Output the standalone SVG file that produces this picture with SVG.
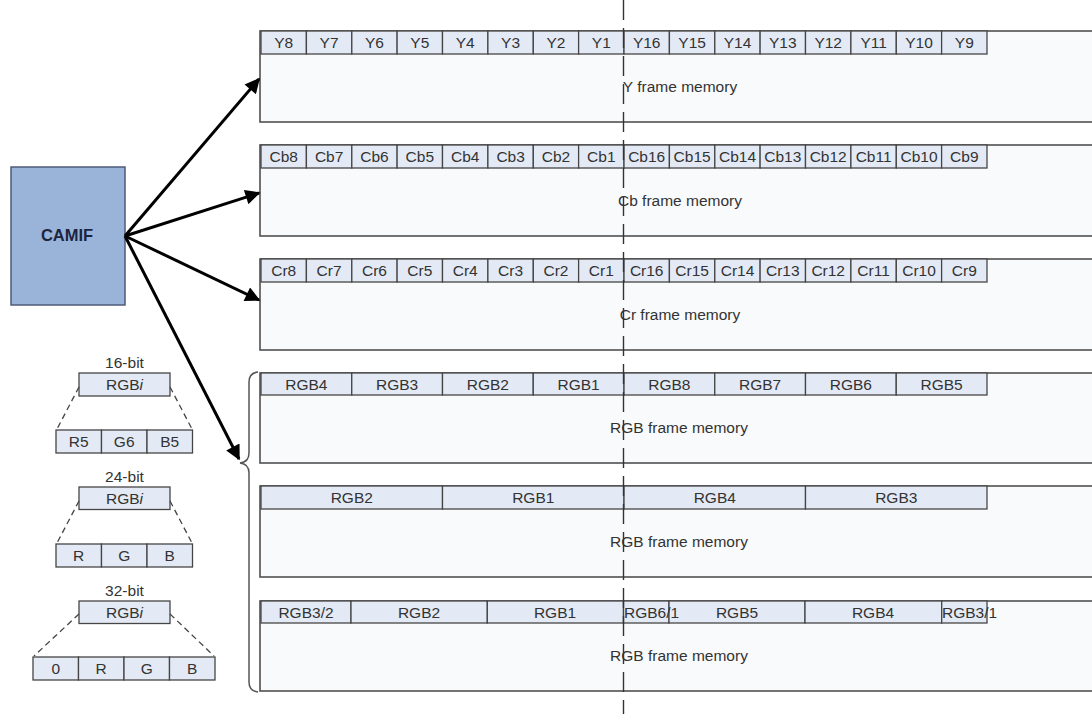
<svg xmlns="http://www.w3.org/2000/svg" width="1092" height="714" viewBox="0 0 1092 714">
<style>
text{font-family:"Liberation Sans",Arial,sans-serif;font-size:15.5px;fill:#333;}
.c{text-anchor:middle;}
.mem{fill:#f9fafc;stroke:#505050;stroke-width:1.6;}
.cell{fill:#e4eaf5;stroke:#454545;stroke-width:1.3;}
.dash{stroke:#444;stroke-width:1.3;stroke-dasharray:6 4;fill:none;}
.arr{stroke:#000;stroke-width:3;fill:none;marker-end:url(#ah);}
</style>
<defs>
<marker id="ah" viewBox="0 0 10 10" refX="9" refY="5" markerWidth="6" markerHeight="5" orient="auto" markerUnits="strokeWidth">
<path d="M0,0 L10,5 L0,10 z" fill="#000"/>
</marker>
</defs>
<rect width="1092" height="714" fill="#fff"/>

<g id="camif">
<rect x="11" y="167" width="114" height="138" fill="#9ab3d9" stroke="#4d5b78" stroke-width="1.5"/>
<text x="67" y="241" class="c" style="font-weight:bold;font-size:16.5px;fill:#1c2540">CAMIF</text>
</g>

<g id="y-mem">
<rect class="mem" x="260" y="31" width="900" height="91"/>
<g id="y-cells">
<rect class="cell" x="261" y="31" width="45.4" height="23"/><rect class="cell" x="306.4" y="31" width="45.4" height="23"/><rect class="cell" x="351.8" y="31" width="45.4" height="23"/><rect class="cell" x="397.1" y="31" width="45.4" height="23"/><rect class="cell" x="442.5" y="31" width="45.4" height="23"/><rect class="cell" x="487.9" y="31" width="45.4" height="23"/><rect class="cell" x="533.3" y="31" width="45.4" height="23"/><rect class="cell" x="578.6" y="31" width="45.4" height="23"/><rect class="cell" x="624" y="31" width="45.4" height="23"/><rect class="cell" x="669.4" y="31" width="45.4" height="23"/><rect class="cell" x="714.8" y="31" width="45.4" height="23"/><rect class="cell" x="760.1" y="31" width="45.4" height="23"/><rect class="cell" x="805.5" y="31" width="45.4" height="23"/><rect class="cell" x="850.9" y="31" width="45.4" height="23"/><rect class="cell" x="896.3" y="31" width="45.4" height="23"/><rect class="cell" x="941.6" y="31" width="45.4" height="23"/>
</g>
<g class="c">
<text class="c" x="283.7" y="48">Y8</text><text class="c" x="329.1" y="48">Y7</text><text class="c" x="374.5" y="48">Y6</text><text class="c" x="419.8" y="48">Y5</text><text class="c" x="465.2" y="48">Y4</text><text class="c" x="510.6" y="48">Y3</text><text class="c" x="556" y="48">Y2</text><text class="c" x="601.3" y="48">Y1</text><text class="c" x="646.7" y="48">Y16</text><text class="c" x="692.1" y="48">Y15</text><text class="c" x="737.5" y="48">Y14</text><text class="c" x="782.8" y="48">Y13</text><text class="c" x="828.2" y="48">Y12</text><text class="c" x="873.6" y="48">Y11</text><text class="c" x="919" y="48">Y10</text><text class="c" x="964.3" y="48">Y9</text>
</g>
<text class="c" x="680" y="92">Y frame memory</text>
</g>

<g id="cb-mem">
<rect class="mem" x="260" y="145" width="900" height="91"/>
<rect class="cell" x="261" y="145" width="45.4" height="23"/><rect class="cell" x="306.4" y="145" width="45.4" height="23"/><rect class="cell" x="351.8" y="145" width="45.4" height="23"/><rect class="cell" x="397.1" y="145" width="45.4" height="23"/><rect class="cell" x="442.5" y="145" width="45.4" height="23"/><rect class="cell" x="487.9" y="145" width="45.4" height="23"/><rect class="cell" x="533.3" y="145" width="45.4" height="23"/><rect class="cell" x="578.6" y="145" width="45.4" height="23"/><rect class="cell" x="624" y="145" width="45.4" height="23"/><rect class="cell" x="669.4" y="145" width="45.4" height="23"/><rect class="cell" x="714.8" y="145" width="45.4" height="23"/><rect class="cell" x="760.1" y="145" width="45.4" height="23"/><rect class="cell" x="805.5" y="145" width="45.4" height="23"/><rect class="cell" x="850.9" y="145" width="45.4" height="23"/><rect class="cell" x="896.3" y="145" width="45.4" height="23"/><rect class="cell" x="941.6" y="145" width="45.4" height="23"/>
<text class="c" x="283.7" y="162">Cb8</text><text class="c" x="329.1" y="162">Cb7</text><text class="c" x="374.5" y="162">Cb6</text><text class="c" x="419.8" y="162">Cb5</text><text class="c" x="465.2" y="162">Cb4</text><text class="c" x="510.6" y="162">Cb3</text><text class="c" x="556" y="162">Cb2</text><text class="c" x="601.3" y="162">Cb1</text><text class="c" x="646.7" y="162">Cb16</text><text class="c" x="692.1" y="162">Cb15</text><text class="c" x="737.5" y="162">Cb14</text><text class="c" x="782.8" y="162">Cb13</text><text class="c" x="828.2" y="162">Cb12</text><text class="c" x="873.6" y="162">Cb11</text><text class="c" x="919" y="162">Cb10</text><text class="c" x="964.3" y="162">Cb9</text>
<text class="c" x="680" y="206">Cb frame memory</text>
</g>

<g id="cr-mem">
<rect class="mem" x="260" y="259" width="900" height="91"/>
<rect class="cell" x="261" y="259" width="45.4" height="23"/><rect class="cell" x="306.4" y="259" width="45.4" height="23"/><rect class="cell" x="351.8" y="259" width="45.4" height="23"/><rect class="cell" x="397.1" y="259" width="45.4" height="23"/><rect class="cell" x="442.5" y="259" width="45.4" height="23"/><rect class="cell" x="487.9" y="259" width="45.4" height="23"/><rect class="cell" x="533.3" y="259" width="45.4" height="23"/><rect class="cell" x="578.6" y="259" width="45.4" height="23"/><rect class="cell" x="624" y="259" width="45.4" height="23"/><rect class="cell" x="669.4" y="259" width="45.4" height="23"/><rect class="cell" x="714.8" y="259" width="45.4" height="23"/><rect class="cell" x="760.1" y="259" width="45.4" height="23"/><rect class="cell" x="805.5" y="259" width="45.4" height="23"/><rect class="cell" x="850.9" y="259" width="45.4" height="23"/><rect class="cell" x="896.3" y="259" width="45.4" height="23"/><rect class="cell" x="941.6" y="259" width="45.4" height="23"/>
<text class="c" x="283.7" y="276">Cr8</text><text class="c" x="329.1" y="276">Cr7</text><text class="c" x="374.5" y="276">Cr6</text><text class="c" x="419.8" y="276">Cr5</text><text class="c" x="465.2" y="276">Cr4</text><text class="c" x="510.6" y="276">Cr3</text><text class="c" x="556" y="276">Cr2</text><text class="c" x="601.3" y="276">Cr1</text><text class="c" x="646.7" y="276">Cr16</text><text class="c" x="692.1" y="276">Cr15</text><text class="c" x="737.5" y="276">Cr14</text><text class="c" x="782.8" y="276">Cr13</text><text class="c" x="828.2" y="276">Cr12</text><text class="c" x="873.6" y="276">Cr11</text><text class="c" x="919" y="276">Cr10</text><text class="c" x="964.3" y="276">Cr9</text>
<text class="c" x="680" y="320">Cr frame memory</text>
</g>

<g id="rgb16-mem">
<rect class="mem" x="260" y="373" width="900" height="90"/>
<rect class="cell" x="261" y="373" width="90.75" height="22"/><rect class="cell" x="351.75" y="373" width="90.75" height="22"/><rect class="cell" x="442.5" y="373" width="90.75" height="22"/><rect class="cell" x="533.25" y="373" width="90.75" height="22"/><rect class="cell" x="624" y="373" width="90.75" height="22"/><rect class="cell" x="714.75" y="373" width="90.75" height="22"/><rect class="cell" x="805.5" y="373" width="90.75" height="22"/><rect class="cell" x="896.25" y="373" width="90.75" height="22"/>
<text class="c" x="306.4" y="390">RGB4</text><text class="c" x="397.1" y="390">RGB3</text><text class="c" x="487.9" y="390">RGB2</text><text class="c" x="578.6" y="390">RGB1</text><text class="c" x="669.4" y="390">RGB8</text><text class="c" x="760.1" y="390">RGB7</text><text class="c" x="850.9" y="390">RGB6</text><text class="c" x="941.6" y="390">RGB5</text>
<text class="c" x="679" y="433">RGB frame memory</text>
</g>

<g id="rgb24-mem">
<rect class="mem" x="260" y="486" width="900" height="91"/>
<rect class="cell" x="261" y="486" width="181.5" height="23"/><rect class="cell" x="442.5" y="486" width="181.5" height="23"/><rect class="cell" x="624" y="486" width="181.5" height="23"/><rect class="cell" x="805.5" y="486" width="181.5" height="23"/>
<text class="c" x="351.75" y="503">RGB2</text><text class="c" x="533.25" y="503">RGB1</text><text class="c" x="714.75" y="503">RGB4</text><text class="c" x="896.25" y="503">RGB3</text>
<text class="c" x="679" y="547">RGB frame memory</text>
</g>

<g id="rgb32-mem">
<rect class="mem" x="260" y="601" width="900" height="90"/>
<rect class="cell" x="261" y="601" width="90" height="22"/><rect class="cell" x="351" y="601" width="136.3" height="22"/><rect class="cell" x="487.3" y="601" width="136.2" height="22"/><rect class="cell" x="623.5" y="601" width="45.5" height="22"/><rect class="cell" x="669" y="601" width="136" height="22"/><rect class="cell" x="805" y="601" width="136.7" height="22"/><rect class="cell" x="941.7" y="601" width="45.3" height="22"/>
<text class="c" x="306" y="618">RGB3/2</text><text class="c" x="419" y="618">RGB2</text><text class="c" x="555" y="618">RGB1</text><text x="624" y="618">RGB6/1</text><text class="c" x="737" y="618">RGB5</text><text class="c" x="873" y="618">RGB4</text><text x="942" y="618">RGB3/1</text>
<text class="c" x="679" y="661">RGB frame memory</text>
</g>

<g id="legend-16">
<text class="c" x="124.5" y="368">16-bit</text>
<rect class="cell" x="79" y="373" width="91" height="23"/>
<text class="c" x="124.5" y="390">RGB<tspan font-style="italic">i</tspan></text>
<path class="dash" d="M79,387 L57,429 M170,387 L192,429"/>
<rect class="cell" x="56" y="430" width="45.5" height="23"/><rect class="cell" x="101.5" y="430" width="45.5" height="23"/><rect class="cell" x="147" y="430" width="45.5" height="23"/>
<text class="c" x="78.7" y="447">R5</text><text class="c" x="124.2" y="447">G6</text><text class="c" x="169.7" y="447">B5</text>
</g>

<g id="legend-24">
<text class="c" x="124.5" y="482">24-bit</text>
<rect class="cell" x="79" y="487" width="91" height="22.5"/>
<text class="c" x="124.5" y="504">RGB<tspan font-style="italic">i</tspan></text>
<path class="dash" d="M79,501 L57,543 M170,501 L192,543"/>
<rect class="cell" x="56" y="544" width="45.5" height="23"/><rect class="cell" x="101.5" y="544" width="45.5" height="23"/><rect class="cell" x="147" y="544" width="45.5" height="23"/>
<text class="c" x="78.7" y="561">R</text><text class="c" x="124.2" y="561">G</text><text class="c" x="169.7" y="561">B</text>
</g>

<g id="legend-32">
<text class="c" x="124.5" y="596">32-bit</text>
<rect class="cell" x="79" y="601" width="91" height="22.5"/>
<text class="c" x="124.5" y="618">RGB<tspan font-style="italic">i</tspan></text>
<path class="dash" d="M79,614 L34,656 M170,614 L214,656"/>
<rect class="cell" x="33" y="657" width="45.5" height="23"/><rect class="cell" x="78.5" y="657" width="45.5" height="23"/><rect class="cell" x="124" y="657" width="45.5" height="23"/><rect class="cell" x="169.5" y="657" width="45.5" height="23"/>
<text class="c" x="55.7" y="674">0</text><text class="c" x="101.2" y="674">R</text><text class="c" x="146.7" y="674">G</text><text class="c" x="192.2" y="674">B</text>
</g>

<g id="brace">
<path d="M258,372 Q249,373 249,382 L249,453 Q249,462 240,463 Q249,464 249,473 L249,682 Q249,691 258,692" fill="none" stroke="#555" stroke-width="1.5"/>
</g>

<g id="connectors">
<line class="arr" x1="125" y1="236" x2="259" y2="79"/>
<line class="arr" x1="125" y1="236" x2="259" y2="193"/>
<line class="arr" x1="125" y1="236" x2="259" y2="300"/>
<line class="arr" x1="125" y1="236" x2="239" y2="459"/>
<line x1="623.5" y1="0" x2="623.5" y2="714" stroke="#333" stroke-width="1.4" stroke-dasharray="20 8"/>
</g>
</svg>
